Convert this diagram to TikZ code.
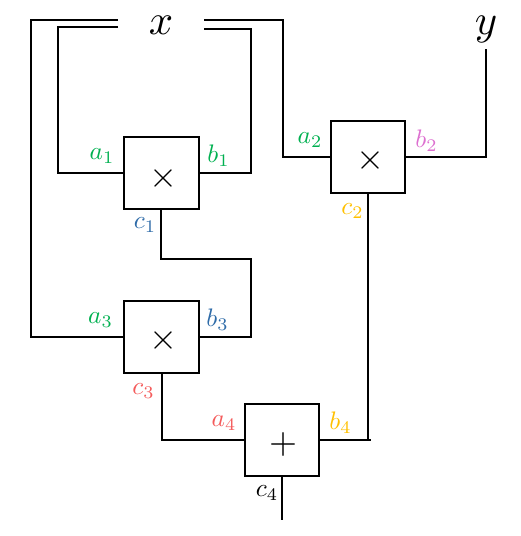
\documentclass[tikz,border=0pt]{standalone}
\definecolor{lgreen}{HTML}{00B050}
\definecolor{lblue}{HTML}{2E6BA8}
\definecolor{lpink}{HTML}{DD70D0}
\definecolor{lyellow}{HTML}{FFC000}
\definecolor{lred}{HTML}{F45B5B}
\tikzset{
  gatebox/.style={draw,line width=1.5pt,rectangle,minimum width=56pt,minimum height=54pt,outer sep=0pt,inner sep=0pt},
  wire/.style={draw,line width=1.5pt,line join=miter,line cap=butt},
  sym/.style={inner sep=0pt,scale=2.7,transform shape},
  term/.style={inner sep=0pt,scale=3.2,transform shape},
  lab/.style={inner sep=0pt,scale=1.9,transform shape}
}
\begin{document}
\begin{tikzpicture}[x=0.75pt,y=-0.75pt]
\useasboundingbox (0,0) rectangle (521,536);
\node[gatebox] (m1) at (161.3,173) {};
\node[gatebox] (m2) at (368,156.5) {};
\node[gatebox] (m3) at (161.5,336.5) {};
\node[gatebox] (p4) at (282,439.5) {};
\node[sym] (s1) at (163,178) {$\times$};
\node[sym] (s2) at (370,160) {$\times$};
\node[sym] (s3) at (163,340) {$\times$};
\node[sym] (s4) at (283,444) {$+$};
\node[term] (x) at (161,25) {$x$};
\node[term] (y) at (486,29) {$y$};
\coordinate (xa) at (118,20);
\coordinate (xb) at (118,27);
\coordinate (xc) at (204,29);
\coordinate (xd) at (204,19.5);
\coordinate (yend) at (486,49);
\coordinate (c1a) at (251,259);
\coordinate (c4end) at (282,520);
\coordinate (b4end) at (371,439.5);
\coordinate (c1mid) at (161.3,259);
\path[wire] (xa) -- (31,20) |- (m3.west);
\path[wire] (xb) -- (58,27) |- (m1.west);
\path[wire] (xc) -- (251,29) |- (m1.east);
\path[wire] (xd) -- (283,19.5) |- (m2.west);
\path[wire] (m2.east) -| (yend);
\path[wire] (m2.south) -- (m2.south |- b4end);
\path[wire] (p4.east) -- (b4end);
\path[wire] (m1.south) -- (c1mid) -- (c1a) |- (m3.east);
\path[wire] (m3.south) |- (p4.west);
\path[wire] (p4.south) -- (c4end);
\node[lab,text=lgreen] (a1) at (102,156) {$a_1$};
\node[lab,text=lgreen] (b1) at (218.5,156) {$b_1$};
\node[lab,text=lblue] (c1) at (145,225) {$c_1$};
\node[lab,text=lgreen] (a2) at (310,140) {$a_2$};
\node[lab,text=lpink] (b2) at (426.5,141) {$b_2$};
\node[lab,text=lyellow] (c2) at (352.5,211) {$c_2$};
\node[lab,text=lgreen] (a3) at (100.5,320) {$a_3$};
\node[lab,text=lblue] (b3) at (217.5,320) {$b_3$};
\node[lab,text=lred] (c3) at (143.5,391) {$c_3$};
\node[lab,text=lred] (a4) at (224,423) {$a_4$};
\node[lab,text=lyellow] (b4) at (340.5,423) {$b_4$};
\node[lab,text=black] (c4) at (267,493) {$c_4$};
\end{tikzpicture}
\end{document}
